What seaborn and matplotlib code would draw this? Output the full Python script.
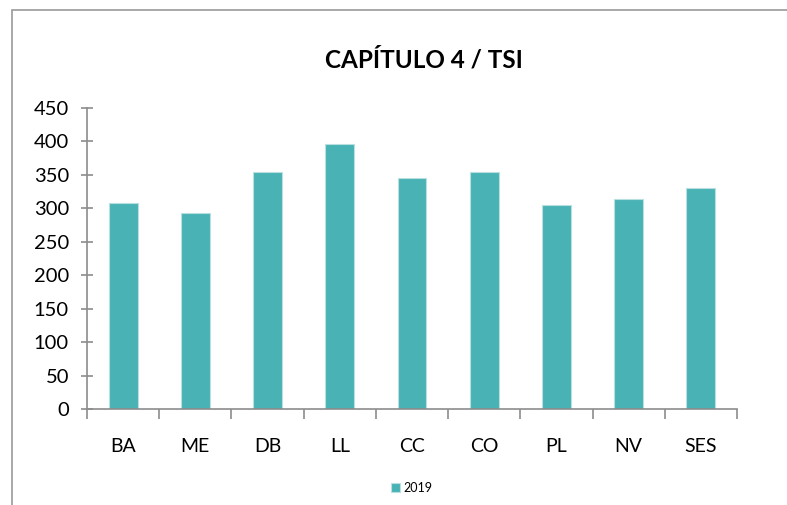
import matplotlib
matplotlib.use("Agg")
import matplotlib.pyplot as plt
import pandas as pd
import seaborn as sns
from matplotlib.patches import Rectangle

categories = ["BA", "ME", "DB", "LL", "CC", "CO", "PL", "NV", "SES"]
values_2019 = [308, 293, 354, 396, 345, 354, 305, 314, 330]

df = pd.DataFrame({"cat": categories, "valor": values_2019, "serie": "2019"})

sns.set_style("white")
plt.rcParams["font.family"] = ["Lato", "DejaVu Sans"]
plt.rcParams["text.color"] = "black"
plt.rcParams["xtick.color"] = "black"
plt.rcParams["ytick.color"] = "black"

fig = plt.figure(figsize=(7.87, 5.05), dpi=100)
ax = fig.add_axes([87 / 787, 1 - 409 / 505, 650 / 787, 301 / 505])

teal = "#48b2b5"
sns.barplot(data=df, x="cat", y="valor", hue="serie", palette=[teal],
            saturation=1, width=0.4, ax=ax, edgecolor="#b8e0e1", linewidth=0.8)

ax.set_ylim(0, 450)
ax.set_xlim(-0.5, len(categories) - 0.5)
ax.set_yticks(range(0, 451, 50))
ax.set_xlabel("")
ax.set_ylabel("")
ax.tick_params(axis="y", left=True, direction="inout", length=8, width=1.2,
               color="#8c8c8c", labelcolor="black", labelsize=14.5, pad=9)
ax.tick_params(axis="x", which="major", bottom=True, length=0, labelsize=14,
               labelcolor="black", pad=21)
# category boundary ticks on the x axis
ax.set_xticks([i - 0.5 for i in range(len(categories) + 1)], minor=True)
ax.tick_params(axis="x", which="minor", bottom=True, direction="out", length=7,
               width=1.2, color="#8c8c8c")
for s in ["top", "right"]:
    ax.spines[s].set_visible(False)
for s in ["left", "bottom"]:
    ax.spines[s].set_color("#8c8c8c")
    ax.spines[s].set_linewidth(1.2)

fig.text(424 / 787, 1 - 60 / 505, "CAPÍTULO 4 / TSI", ha="center", va="center",
         fontsize=17.5, fontweight="bold", color="black")

leg = ax.legend(loc="center", bbox_to_anchor=(412 / 787, 1 - 488 / 505),
                bbox_transform=fig.transFigure, frameon=False, fontsize=9,
                handlelength=0.7, handleheight=0.7, handletextpad=0.3)

fig.patches.append(Rectangle((12 / 787, -0.05), 1.0, 1 - 10 / 505 + 0.05,
                             transform=fig.transFigure, fill=False,
                             edgecolor="#9a9a9a", linewidth=1.2))

fig.savefig("out.png", dpi=100)
